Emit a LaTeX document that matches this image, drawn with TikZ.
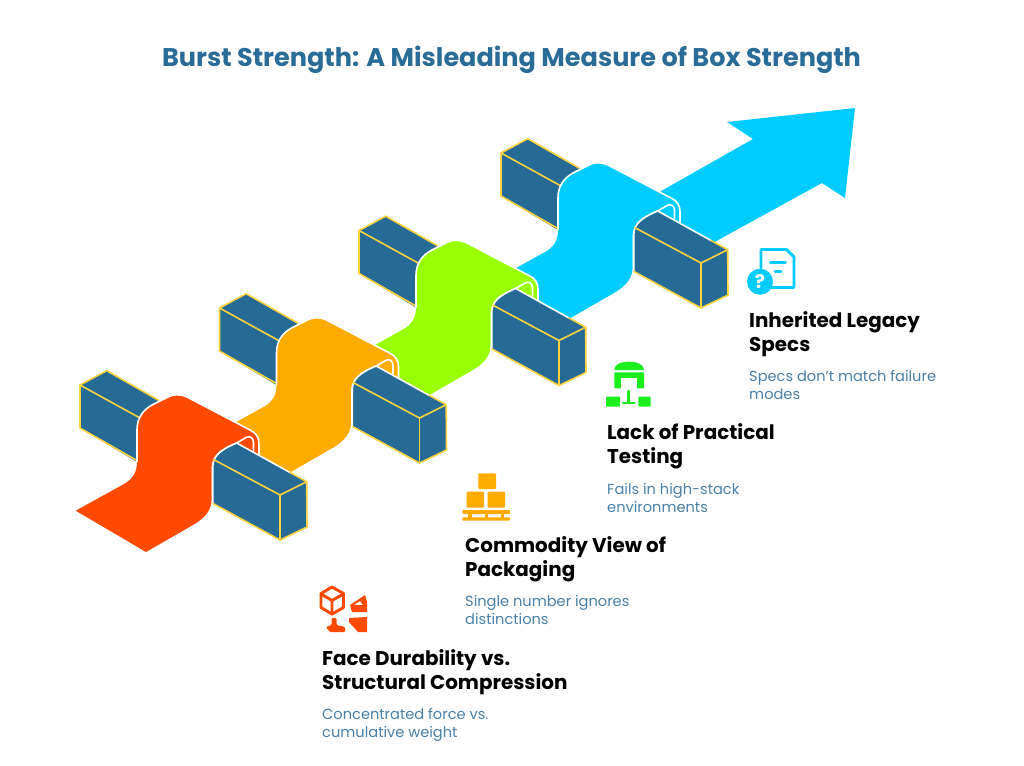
\documentclass[tikz,border=0pt]{standalone}
\usepackage{fontspec}
\setmainfont{Poppins}
\definecolor{cRed}{HTML}{FF4A00}
\definecolor{cOrange}{HTML}{FFAB00}
\definecolor{cGreen}{HTML}{99FF00}
\definecolor{cCyan}{HTML}{00CCFF}
\definecolor{cBox}{HTML}{266A96}
\definecolor{cEdge}{HTML}{FFD23F}
\definecolor{cTitle}{HTML}{2A6C98}
\definecolor{cDesc}{HTML}{4A80A8}
\definecolor{cIconGreen}{HTML}{1CF01C}
\newcommand{\unitdraw}[3]{%
 \begin{scope}[shift={(#1,#2)}]
  % back box
  \fill[cBox] (80,385) -- (106.7,370.7) -- (160,401) -- (137,462) -- (80,428) -- cycle;
  \draw[edgeline] (159,400.5) -- (106.7,370.7) -- (80,385) -- (80,428) -- (136,460);
  \draw[edgeline] (80,385) -- (140,418);
  % ribbon
  \fill[#3] (75.7,510.7) -- (124,484) .. controls (133,479) and (137,472) .. (137,462) -- (137,430)
    .. controls (137,418) and (143,410) .. (152,405) -- (168,397) .. controls (173,394) and (181,394) .. (187,397)
    -- (250,430) .. controls (256,433) and (259,437) .. (259,444) -- (259,470) -- (212,490) -- (212,497)
    .. controls (212,510) and (205,518) .. (193,525) -- (146,552) -- cycle;
  \draw[whiteline] (137,462) -- (137,430)
    .. controls (137,418) and (143,410) .. (152,405) -- (168,397) .. controls (173,394) and (181,394) .. (187,397)
    -- (250,430) .. controls (256,433) and (259,437) .. (259,444) -- (259,455);
  \draw[whiteline] (212.5,503) -- (212.5,467) .. controls (213,456) and (220,450) .. (236.7,443)
    -- (246,437.5) .. controls (250,435.5) and (253,437.5) .. (253.5,442) -- (253.5,451);
  % front box
  \fill[cBox] (212.7,503) -- (212.7,467) .. controls (213,456) and (220,450) .. (236.7,443) -- (306.7,481.7)
    -- (307,527) -- (280,540) -- cycle;
  \draw[whiteline] (212.7,503) -- (212.7,467) .. controls (213,456) and (220,450) .. (236.7,443) -- (290,472.5);
  \draw[edgeline] (213.5,459.5) -- (280,495) -- (306.7,481.7) -- (307,527) -- (280,540) -- (213,503.5);
  \draw[edgeline] (280,495) -- (280,540);
  \draw[edgeline] (306.7,481.7) -- (290,472.5);
 \end{scope}}
\tikzset{
 edgeline/.style={draw=cEdge,line width=1.6pt,line join=round,line cap=round},
 whiteline/.style={draw=white,line width=1.6pt,line join=round},
 headtext/.style={anchor=base west,inner sep=0pt,align=left,font=\fontsize{19.9}{24}\selectfont\bfseries,text=black},
 desctext/.style={anchor=base west,inner sep=0pt,align=left,font=\fontsize{14.6}{18}\selectfont,text=cDesc},
 iconline/.style={line width=2.9pt,line join=round,line cap=round},
}
\begin{document}
\begin{tikzpicture}[x=1pt,y=-1pt]
\useasboundingbox (0,0) rectangle (1024,765);
\fill[white] (0,0) rectangle (1024,765);
\node[anchor=base,inner sep=0pt,font=\fontsize{25.55}{30}\selectfont\bfseries,text=cTitle] (title) at (511.5,66.5) {Burst Strength: A Misleading Measure of Box Strength};
% arrow
\fill[cCyan] (640,203) -- (753,139) -- (727,122) -- (855,108) -- (845,198) -- (822,183) -- (700,250) -- cycle;
\unitdraw{421}{-232}{cCyan}
\unitdraw{279}{-154.5}{cGreen}
\unitdraw{139.5}{-77}{cOrange}
\unitdraw{0}{0}{cRed}
% texts
\node[headtext] (h4) at (749,351.6) {Inherited Legacy\\Specs};
\node[desctext] (d4) at (749,399) {Specs don't match failure\\modes};
\node[headtext] (h3) at (607,463.8) {Lack of Practical\\Testing};
\node[desctext] (d3) at (607,512) {Fails in high-stack\\environments};
\node[headtext] (h2) at (465,576.6) {Commodity View of\\Packaging};
\node[desctext] (d2) at (465,624) {Single number ignores\\distinctions};
\node[headtext] (h1) at (322,689.4) {Face Durability vs.\\Structural Compression};
\node[desctext] (d1) at (322,737) {Concentrated force vs.\\cumulative weight};
% icon 1
\draw[cRed,iconline] (332,587) -- (343.5,593.5) -- (343.5,607.5) -- (332,614) -- (321,607.5) -- (321,593.5) -- cycle;
\draw[cRed,iconline] (321,594) -- (332,600.5) -- (343.5,594) (332,600.5) -- (332,614);
\fill[cRed,even odd rule] (350,605) -- (365,595) -- (367,602) -- (367,612) -- (352,612) -- cycle (354,605) -- (360,601) -- (363,605) -- cycle;
\fill[cRed] (349,618) -- (367,617) -- (367,632) -- (358,632) -- (349,622) -- cycle;
\fill[cRed,rounded corners=1pt] (331.5,618) -- (336.5,618) -- (336.5,625) -- (345,627) -- (345,632) -- (330,632) -- (326,627) -- (331.5,625) -- cycle;
% icon 2
\begin{scope}[cOrange]
\fill[rounded corners=1pt] (478.3,473.3) rectangle (496,489);
\fill[rounded corners=1pt] (466.7,491.7) rectangle (484,507.7);
\fill[rounded corners=1pt] (487.7,491.7) rectangle (505,507.7);
\fill[rounded corners=1pt] (462.3,510) rectangle (510,514);
\fill[rounded corners=1pt] (462.3,517.3) rectangle (510,520.7);
\fill (468,513) rectangle (471.5,518);
\fill (484.5,513) rectangle (488,518);
\fill (500.5,513) rectangle (504,518);
\end{scope}
% icon 3
\begin{scope}[cIconGreen]
\fill (614.3,370) .. controls (614.3,365) and (620,361.7) .. (629,361.7) .. controls (638,361.7) and (644,365) .. (644,370) -- cycle;
\fill[rounded corners=0.8pt] (614.3,372.3) rectangle (644,388.3);
\fill[white] (620.8,378.3) rectangle (636.7,389);
\fill[rounded corners=0.8pt] (606,396.7) rectangle (620,406.7);
\fill[rounded corners=0.8pt] (638.3,396.7) rectangle (650.7,406.7);
\draw[line width=2.8pt,line cap=round] (628.5,391) -- (628.5,402) (623,403) -- (634.5,403);
\end{scope}
% icon 4
\draw[cCyan,iconline] (761,268) -- (761,249.5) -- (786.5,249.5) -- (794,257) -- (794,287.5) -- (771,287.5);
\draw[cCyan,iconline] (770.5,262.7) -- (785.5,262.7) (775,271.7) -- (781,271.7);
\fill[cCyan] (760,281.7) circle (13);
\node[inner sep=0pt,text=white,font=\fontsize{19}{19}\selectfont\bfseries] (q) at (760,281.7) {?};
\end{tikzpicture}
\end{document}
